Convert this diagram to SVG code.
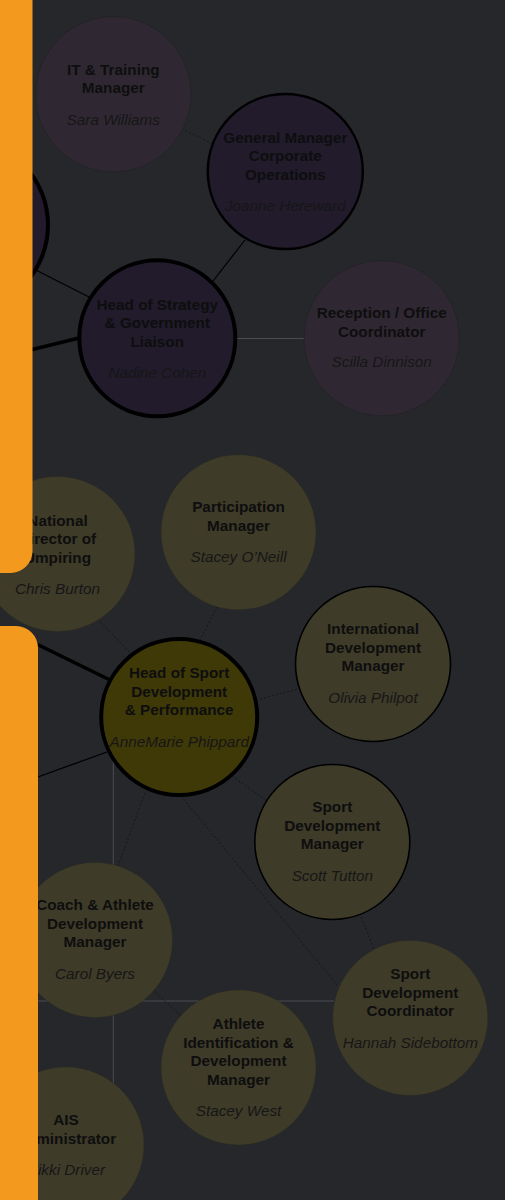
<svg xmlns="http://www.w3.org/2000/svg" width="505" height="1200" viewBox="0 0 505 1200">
<style>
.t{font-family:"Liberation Sans",Arial,sans-serif;font-size:15.3px;font-weight:bold;fill:#0e0e0e;text-anchor:middle}
.n{font-family:"Liberation Sans",Arial,sans-serif;font-size:15.3px;font-style:italic;fill:#161616;text-anchor:middle}
.pl{fill:#2f2832;stroke:#1e1e22;stroke-width:0.8;stroke-dasharray:2 1.5}
.pd{fill:#211b2c;stroke:#000}
.ol{fill:#3e3b29;stroke:#2a2a22;stroke-width:0.8;stroke-dasharray:2 1.5}
.ob{fill:#3e3b29;stroke:#000;stroke-width:1.6}
.dot{stroke:#121212;stroke-width:0.8;stroke-dasharray:2 2;fill:none}
.solid{stroke:#000;fill:none}
.grey{stroke:#4b4c52;stroke-width:1;fill:none}
.bar{fill:#f39a1e}
</style>
<rect x="0" y="0" width="505" height="1200" fill="#26272a"/>
<g id="connectors">
<line class="dot" x1="185" y1="130.5" x2="212" y2="143.5"/>
<line class="solid" stroke-width="1.2" x1="245" y1="240" x2="213" y2="281"/>
<line class="solid" stroke-width="1.3" x1="20" y1="262" x2="89" y2="297"/>
<line class="solid" stroke-width="3.5" x1="10" y1="355" x2="79" y2="338"/>
<line class="grey" stroke="#1c1c1e" x1="237" y1="338.5" x2="304" y2="338.5"/>
<line class="solid" stroke-width="3.5" x1="10" y1="631" x2="110" y2="680"/>
<line class="solid" stroke-width="1.3" x1="10" y1="787" x2="107" y2="752"/>
<line class="dot" x1="95" y1="616" x2="131" y2="654"/>
<line class="dot" x1="217" y1="607" x2="200" y2="640"/>
<line class="dot" stroke-dasharray="3 2" x1="297" y1="689.3" x2="258" y2="699.5"/>
<line class="dot" x1="232" y1="776" x2="267" y2="801"/>
<line class="grey" x1="113.3" y1="760" x2="113.3" y2="1083"/>
<line class="dot" x1="145" y1="793" x2="118" y2="866"/>
<line class="dot" x1="181" y1="796" x2="337" y2="985"/>
<line class="dot" x1="361" y1="917" x2="374" y2="949"/>
<line class="grey" x1="20" y1="1001" x2="334" y2="1001"/>
<line class="dot" x1="153" y1="990" x2="181" y2="1016"/>
</g>
<g id="node-left-hidden">
<circle class="pd" cx="-38" cy="225" r="86" stroke-width="4"/>
</g>
<g id="node-it">
<circle class="pl" cx="113.3" cy="94.3" r="77.5"/>
<text class="t" x="113.3" y="74.5">IT &amp; Training</text>
<text class="t" x="113.3" y="93">Manager</text>
<text class="n" x="113.3" y="124.5">Sara Williams</text>
</g>
<g id="node-gm">
<circle class="pd" cx="285.3" cy="171.5" r="77.5" stroke-width="2.5"/>
<text class="t" x="285.3" y="142.5">General Manager</text>
<text class="t" x="285.3" y="161">Corporate</text>
<text class="t" x="285.3" y="179.5">Operations</text>
<text class="n" x="285.3" y="211">Joanne Hereward</text>
</g>
<g id="node-strategy">
<circle class="pd" cx="157.3" cy="338.3" r="78" stroke-width="4"/>
<text class="t" x="157.3" y="309.5">Head of Strategy</text>
<text class="t" x="157.3" y="328">&amp; Government</text>
<text class="t" x="157.3" y="346.5">Liaison</text>
<text class="n" x="157.3" y="378">Nadine Cohen</text>
</g>
<g id="node-reception">
<circle class="pl" cx="381.7" cy="338.3" r="77.5"/>
<text class="t" x="381.7" y="318">Reception / Office</text>
<text class="t" x="381.7" y="336.5">Coordinator</text>
<text class="n" x="381.7" y="367">Scilla Dinnison</text>
</g>
<g id="node-umpiring">
<circle class="ol" cx="57.5" cy="554" r="77.5"/>
<text class="t" x="57.5" y="525.5">National</text>
<text class="t" x="57.5" y="544">Director of</text>
<text class="t" x="57.5" y="562.5">Umpiring</text>
<text class="n" x="57.5" y="594">Chris Burton</text>
</g>
<g id="node-participation">
<circle class="ol" cx="238.5" cy="532.3" r="77.5"/>
<text class="t" x="238.5" y="512">Participation</text>
<text class="t" x="238.5" y="530.5">Manager</text>
<text class="n" x="238.5" y="562">Stacey O’Neill</text>
</g>
<g id="node-international">
<circle class="ob" cx="373" cy="664" r="77.5"/>
<text class="t" x="373" y="634">International</text>
<text class="t" x="373" y="652.5">Development</text>
<text class="t" x="373" y="671">Manager</text>
<text class="n" x="373" y="703">Olivia Philpot</text>
</g>
<g id="node-head-sport">
<circle cx="179.2" cy="717" r="78" fill="#3f3908" stroke="#000" stroke-width="4"/>
<text class="t" x="179.2" y="678">Head of Sport</text>
<text class="t" x="179.2" y="696.5">Development</text>
<text class="t" x="179.2" y="715">&amp; Performance</text>
<text class="n" x="179.2" y="747">AnneMarie Phippard</text>
</g>
<g id="node-sport-dev-mgr">
<circle class="ob" cx="332.3" cy="842" r="77.5"/>
<text class="t" x="332.3" y="812">Sport</text>
<text class="t" x="332.3" y="830.5">Development</text>
<text class="t" x="332.3" y="849">Manager</text>
<text class="n" x="332.3" y="881">Scott Tutton</text>
</g>
<g id="node-coach">
<circle class="ol" cx="95" cy="940" r="77.5"/>
<text class="t" x="95" y="910">Coach &amp; Athlete</text>
<text class="t" x="95" y="928.5">Development</text>
<text class="t" x="95" y="947">Manager</text>
<text class="n" x="95" y="979">Carol Byers</text>
</g>
<g id="node-coordinator">
<circle class="ol" cx="410.3" cy="1018" r="77.5"/>
<text class="t" x="410.3" y="979">Sport</text>
<text class="t" x="410.3" y="997.5">Development</text>
<text class="t" x="410.3" y="1016">Coordinator</text>
<text class="n" x="410.3" y="1048">Hannah Sidebottom</text>
</g>
<g id="node-athlete-id">
<circle class="ol" cx="238.5" cy="1067.5" r="77.5"/>
<text class="t" x="238.5" y="1029">Athlete</text>
<text class="t" x="238.5" y="1047.5">Identification &amp;</text>
<text class="t" x="238.5" y="1066">Development</text>
<text class="t" x="238.5" y="1084.5">Manager</text>
<text class="n" x="238.5" y="1116">Stacey West</text>
</g>
<g id="node-ais">
<circle class="ol" cx="66" cy="1145" r="78"/>
<text class="t" x="66" y="1125">AIS</text>
<text class="t" x="66" y="1143.5">Administrator</text>
<text class="n" x="66" y="1175">Nikki Driver</text>
</g>
<g id="sidebars">
<path class="bar" d="M0 0 H32.5 V551 A22 22 0 0 1 10.5 573 H0 Z"/>
<path class="bar" d="M0 626 H16 A22 22 0 0 1 38 648 V1200 H0 Z"/>
</g>
</svg>
